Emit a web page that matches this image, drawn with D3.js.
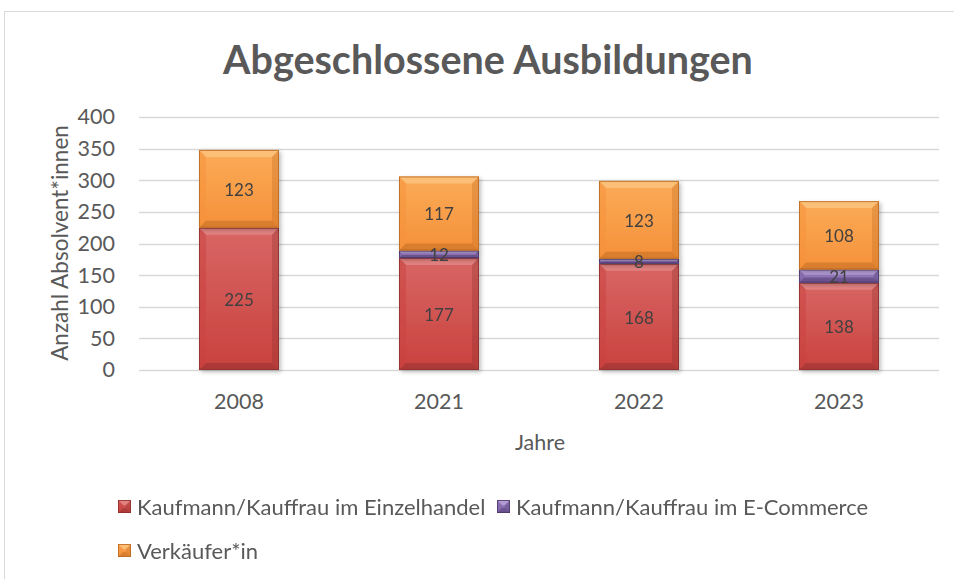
<!DOCTYPE html>
<html>
<head>
<meta charset="utf-8">
<script src="https://cdn.jsdelivr.net/npm/d3@7"></script>
<style>
  body { margin: 0; background: #fff; }
  svg text { font-family: Lato, "Open Sans", sans-serif; }
</style>
</head>
<body>
<svg id="chart" width="954" height="579"></svg>
<script>
'use strict';

// chart data
const years = ["2008", "2021", "2022", "2023"];
const seriesNames = ["Kaufmann/Kauffrau im Einzelhandel", "Kaufmann/Kauffrau im E-Commerce", "Verkäufer*in"];
const einzelhandel = [225, 177, 168, 138];
const eCommerce = [0, 12, 8, 21];
const verkaeufer = [123, 117, 123, 108];
const yTicks = [0, 50, 100, 150, 200, 250, 300, 350, 400];

const colors = [
    {base: "#c9423f", light: "#e58a88", dark: "#8c2e2c", top: "#d86664"},
    {base: "#8063a8", light: "#b9a2d8", dark: "#4a3566", top: "#a087c6"},
    {base: "#f5913a", light: "#fcc47f", dark: "#b8661f", top: "#fbab58"}
];

const svg = d3.select("#chart");

// outer border
svg.append("rect")
    .attr("x", 4.5).attr("y", 11.5)
    .attr("width", 980).attr("height", 600)
    .attr("fill", "none")
    .attr("stroke", "#d9d9d9");

const x = d3.scaleBand().domain(years).range([139, 939]).paddingInner(0.6).paddingOuter(0.3);
const y = d3.scaleLinear().domain([0, 400]).range([370, 117]);

// title
svg.append("text")
    .attr("x", 488).attr("y", 74)
    .attr("text-anchor", "middle")
    .attr("font-size", 39.5).attr("font-weight", "bold")
    .attr("fill", "#595959")
    .text("Abgeschlossene Ausbildungen");

// gridlines
svg.append("g").selectAll("line")
    .data(yTicks)
    .join("line")
    .attr("x1", 139).attr("x2", 939)
    .attr("y1", d => Math.round(y(d)) + 0.5)
    .attr("y2", d => Math.round(y(d)) + 0.5)
    .attr("stroke", "#d9d9d9").attr("stroke-width", 1.5);

// y axis
const yAxis = svg.append("g")
    .attr("transform", "translate(139,0)")
    .call(d3.axisLeft(y).tickValues(yTicks).tickSize(0).tickPadding(24));
yAxis.select(".domain").remove();
yAxis.selectAll("text").attr("font-size", 21.5).attr("fill", "#595959")
    .attr("font-family", "Lato, sans-serif");

// x axis
const xAxis = svg.append("g")
    .attr("transform", "translate(0,370)")
    .call(d3.axisBottom(x).tickSize(0).tickPadding(24));
xAxis.select(".domain").remove();
xAxis.selectAll("text").attr("font-size", 21.5).attr("fill", "#595959")
    .attr("font-family", "Lato, sans-serif");

// axis titles
svg.append("text")
    .attr("transform", "translate(68,243) rotate(-90)")
    .attr("text-anchor", "middle")
    .attr("font-size", 22.5).attr("fill", "#595959")
    .text("Anzahl Absolvent*innen");

svg.append("text")
    .attr("x", 540).attr("y", 450)
    .attr("text-anchor", "middle")
    .attr("font-size", 21.5).attr("fill", "#595959")
    .text("Jahre");

// stacked data
const rows = years.map((yr, i) => ({year: yr, s0: einzelhandel[i], s1: eCommerce[i], s2: verkaeufer[i]}));
const stack = d3.stack().keys(["s0", "s1", "s2"]);
const layers = stack(rows);

const defs = svg.append("defs");
const shadow = defs.append("filter").attr("id", "shadow")
    .attr("x", "-10%").attr("y", "-10%").attr("width", "130%").attr("height", "130%");
shadow.append("feDropShadow").attr("dx", 2).attr("dy", 2).attr("stdDeviation", 2)
    .attr("flood-color", "#000").attr("flood-opacity", 0.25);

colors.forEach((c, k) => {
    const g = defs.append("linearGradient").attr("id", "grad" + k)
        .attr("x1", 0).attr("y1", 0).attr("x2", 0).attr("y2", 1);
    g.append("stop").attr("offset", "0%").attr("stop-color", c.top);
    g.append("stop").attr("offset", "100%").attr("stop-color", c.base);
});

// draw a bevelled rectangle
function bevel(g, x0, y0, w, h, c, k) {
    const b = Math.min(7, h / 2.5, w / 2.5);
    const x1 = x0 + w, y1 = y0 + h;
    g.append("rect").attr("x", x0).attr("y", y0).attr("width", w).attr("height", h)
        .attr("fill", "url(#grad" + k + ")");
    // top highlight
    g.append("polygon")
        .attr("points", [[x0, y0], [x1, y0], [x1 - b, y0 + b], [x0 + b, y0 + b]].join(" "))
        .attr("fill", c.light).attr("opacity", 0.8);
    // left side
    g.append("polygon")
        .attr("points", [[x0, y0], [x0 + b, y0 + b], [x0 + b, y1 - b], [x0, y1]].join(" "))
        .attr("fill", c.base).attr("opacity", 0.5);
    // right side
    g.append("polygon")
        .attr("points", [[x1, y0], [x1 - b, y0 + b], [x1 - b, y1 - b], [x1, y1]].join(" "))
        .attr("fill", c.dark).attr("opacity", 0.3);
    // bottom
    g.append("polygon")
        .attr("points", [[x0, y1], [x0 + b, y1 - b], [x1 - b, y1 - b], [x1, y1]].join(" "))
        .attr("fill", c.dark).attr("opacity", 0.45);
    g.append("rect").attr("x", x0 + 0.5).attr("y", y0 + 0.5).attr("width", w - 1).attr("height", h - 1)
        .attr("fill", "none").attr("stroke", c.dark).attr("stroke-width", 1).attr("opacity", 0.8);
}

const barsG = svg.append("g");
layers.forEach((layer, k) => {
    const lg = barsG.append("g").attr("filter", "url(#shadow)");
    layer.forEach(d => {
        if (d[1] - d[0] <= 0) return;
        const yTop = y(d[1]), yBot = y(d[0]);
        bevel(lg, x(d.data.year), yTop, x.bandwidth(), yBot - yTop, colors[k], k);
    });
});

// data labels
layers.forEach((layer, k) => {
    barsG.append("g").selectAll("text")
        .data(layer.filter(d => d[1] - d[0] > 0))
        .join("text")
        .attr("x", d => x(d.data.year) + x.bandwidth() / 2)
        .attr("y", d => (y(d[0]) + y(d[1])) / 2 + 7)
        .attr("text-anchor", "middle")
        .attr("font-size", 17).attr("fill", "#404040")
        .text(d => d[1] - d[0]);
});

// legend
const legendPos = [[118, 507], [497, 507], [118, 551]];
seriesNames.forEach((name, k) => {
    const [lx, ly] = legendPos[k];
    const lg = svg.append("g");
    bevel(lg, lx, ly - 7, 13, 13, colors[k], k);
    lg.append("text")
        .attr("x", lx + 19).attr("y", ly + 8)
        .attr("font-size", 22).attr("fill", "#595959")
        .text(name);
});
</script>
</body>
</html>
